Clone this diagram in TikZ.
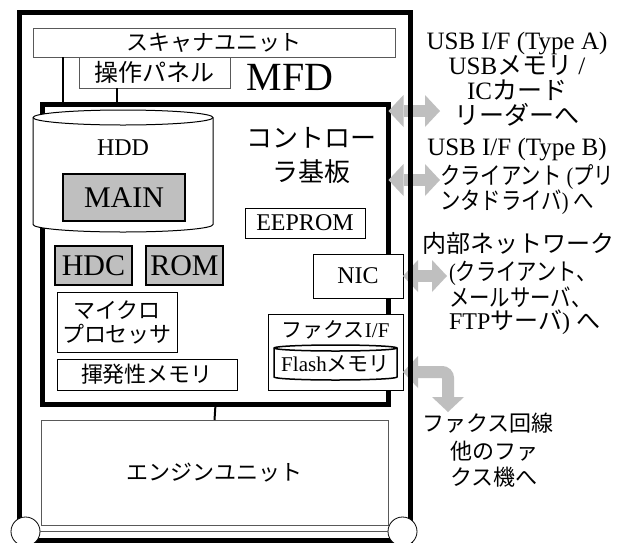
\documentclass[tikz,border=0pt]{standalone}
\usepackage{graphicx}
\usepackage{fontspec}
\setmainfont{Liberation Serif}
\newfontfamily\jp{Noto Sans CJK JP}
\usetikzlibrary{arrows.meta}
\newcommand\fszb[2]{\fontsize{#1pt}{#2pt}\selectfont}
\newcommand\narrowline[1]{\scalebox{0.85}[1]{#1}}
\begin{document}
\begin{tikzpicture}[x=1pt,y=-1pt,
  gbox/.style={draw=black!65, line width=0.8pt, fill=white, inner sep=0pt, outer sep=0pt},
  wbox/.style={draw=black, line width=0.8pt, fill=white, inner sep=0pt, outer sep=0pt},
  gybox/.style={draw=black, line width=2.5pt, fill=black!25, inner sep=0pt, outer sep=0pt},
  thickframe/.style={draw=black, line width=5pt, inner sep=0pt, outer sep=0pt},
  wire/.style={draw=black, line width=2pt},
  txt/.style={inner sep=0pt, outer sep=0pt},
  wheel/.style={circle, draw=black, line width=0.8pt, fill=white, minimum size=29pt, inner sep=0pt, outer sep=0pt},
  bigarrow/.style={draw=black!25, line width=12pt,
    {Triangle[width=32pt,length=15pt,line width=0pt]}-{Triangle[width=32pt,length=15pt,line width=0pt]}},
]
\useasboundingbox (0,0) rectangle (622,542);
\fill[white] (0,0) rectangle (622,542);

% scanner unit and panel
\node[gbox, minimum width=362pt, minimum height=29pt, font={\fszb{22}{24}\jp}] (scan) at (214,42.5) {スキャナユニット};
\node[gbox, minimum width=151pt, minimum height=31pt, font={\fszb{24}{26}\jp}] (panel) at (154.5,72.5) {操作パネル};
\node[txt, font={\fszb{40}{42}}] (mfd) at (290,77) {MFD};

% controller board
\node[thickframe, fill=white, minimum width=346pt, minimum height=300pt] (ctrl) at (215.5,254.5) {};
\coordinate (wx1) at (63,0);
\coordinate (wx2) at (117,0);
\draw[wire] (scan.south -| wx1) -- (ctrl.north -| wx1);
\draw[wire] (panel.south -| wx2) -- (ctrl.north -| wx2);
\node[thickframe, minimum width=346pt, minimum height=300pt] at (ctrl) {};

\node[txt, align=center, font={\fszb{26}{34}\jp}] (ctrllabel) at (311,155) {コントロー\\ラ基板};

% HDD cylinder
\filldraw[fill=white, draw=black, line width=1pt] (33,117.5) -- (33,224.5)
  arc[start angle=180, end angle=360, x radius=90pt, y radius=7.5pt] -- (213,117.5)
  arc[start angle=0, end angle=180, x radius=90pt, y radius=7.5pt] -- cycle;
\draw[line width=1pt] (33,117.5) arc[start angle=180, end angle=360, x radius=90pt, y radius=7.5pt];
\node[txt, font={\fszb{24}{26}}] (hdd) at (123,148) {HDD};
\node[gybox, minimum width=122pt, minimum height=47pt, font={\fszb{30}{32}}] (main) at (124,197.5) {MAIN};

\node[wbox, minimum width=120pt, minimum height=30pt, font={\fszb{24}{26}}] (eeprom) at (305,223) {EEPROM};
\node[wbox, minimum width=90pt, minimum height=44pt, font={\fszb{24}{26}}] (nic) at (358,276) {NIC};
\node[gybox, minimum width=77pt, minimum height=39pt, font={\fszb{30}{32}}] (hdc) at (93.5,265.5) {HDC};
\node[gybox, minimum width=77pt, minimum height=39pt, font={\fszb{30}{32}}] (rom) at (184.5,265.5) {ROM};
\node[wbox, minimum width=120pt, minimum height=60pt, align=center, font={\fszb{22}{24}\jp}] (cpu) at (117,322) {マイクロ\\プロセッサ};
\node[wbox, minimum width=180pt, minimum height=31pt, font={\fszb{22}{24}\jp}] (ram) at (147,374.5) {揮発性メモリ};

% fax interface
\node[wbox, minimum width=135pt, minimum height=76pt] (faxif) at (335.5,352) {};
\node[txt, font={\fszb{21}{23}}] (faxiflabel) at (335.5,330) {{\jp ファクス}I/F};
\filldraw[fill=white, draw=black, line width=1.5pt] (274,348) -- (274,377)
  arc[start angle=180, end angle=360, x radius=61.5pt, y radius=3pt] -- (397,348)
  arc[start angle=0, end angle=180, x radius=61.5pt, y radius=3pt] -- cycle;
\draw[line width=1.5pt] (274,348) arc[start angle=180, end angle=360, x radius=61.5pt, y radius=3pt];
\node[txt, font={\fszb{21}{23}}] (flash) at (335.5,364) {Flash{\jp メモリ}};

% engine unit
\node[gbox, minimum width=347pt, minimum height=105pt, font={\fszb{22}{24}\jp}] (engine) at (214.5,472.5) {エンジンユニット};
\draw[wire] (ctrl.south) -- (engine.north);

% external connections
\coordinate (usbAend) at (440,111);
\coordinate (usbBend) at (440,180);
\coordinate (netend) at (447,276);
\coordinate (faxy) at (0,372);
\coordinate (faxend) at (448,412);
\draw[bigarrow] (ctrl.east |- usbAend) -- (usbAend);
\draw[bigarrow] (ctrl.east |- usbBend) -- (usbBend);
\draw[bigarrow] (nic.east) -- (netend);
\draw[bigarrow, rounded corners=6pt] (faxif.east |- faxy) -| (faxend);

% outer MFD frame
\node[thickframe, minimum width=391pt, minimum height=528pt] (frame) at (214.5,276) {};
\node[wheel] (wheelL) at (25.5,531.5) {};
\node[wheel] (wheelR) at (402.5,531.5) {};
\draw[draw=black!65, line width=0.8pt] (wheelL.east) -- (wheelR.west);

% right-hand texts
\node[txt, align=center, font={\fszb{25}{25}}] (usbA) at (517,79) {USB I/F (Type A)\\USB{\jp メモリ} /\\IC{\jp カード}\\{\jp リーダーへ}};
\node[txt, font={\fszb{25}{25}}] (usbBtitle) at (517,150) {USB I/F (Type B)};
\node[txt, align=left, anchor=west, font={\fszb{24}{25}}] (usbBtext) at (440,190) {\narrowline{{\jp クライアント} ({\jp プリ}}\\\narrowline{{\jp ンタドライバ}) {\jp へ}}};
\node[txt, anchor=west, font={\fszb{24}{25}\jp}] (nettitle) at (422,243) {内部ネットワーク};
\node[txt, align=left, anchor=west, font={\fszb{24}{23}}] (nettext) at (449,298) {\narrowline{({\jp クライアント、}}\\\narrowline{{\jp メールサーバ、}}\\FTP{\jp サーバ}) {\jp へ}};
\node[txt, anchor=west, font={\fszb{22}{26}\jp}] (faxtitle) at (422,423) {ファクス回線};
\node[txt, align=left, anchor=west, font={\fszb{22}{26}\jp}] (faxtext) at (450,464) {他のファ\\クス機へ};
\end{tikzpicture}
\end{document}
